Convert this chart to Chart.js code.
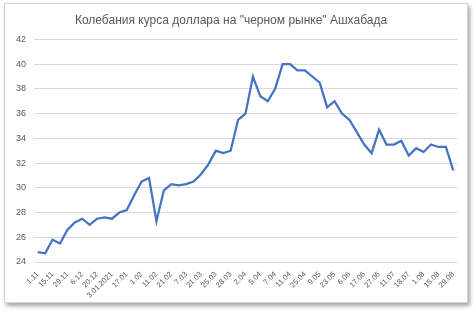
<!DOCTYPE html>
<html lang="ru">
<head>
<meta charset="utf-8">
<title>Колебания курса доллара</title>
<script src="https://cdn.jsdelivr.net/npm/chart.js@4.4.1/dist/chart.umd.min.js"></script>
<style>
  html, body { margin: 0; padding: 0; background: #fff; }
  body { width: 474px; height: 311px; position: relative; overflow: hidden; }
  .card {
    position: absolute; left: 4px; top: 3px; width: 462px; height: 298px;
    background: #fff; border: 1px solid #d4d4d4;
    box-shadow: 2px 3px 4px rgba(0, 0, 0, 0.35);
  }
  #chart { display: block; }
</style>
</head>
<body>
<div class="card"><canvas id="chart" width="462" height="298"></canvas></div>
<script>
// --- Data ---
// dates shown on the axis (every other point is labelled)
const tickDates = ['1.11', '15.11', '29.11', '6.12', '20.12', '3.01.2021', '17.01', '1.02',
  '11.02', '21.02', '7.03', '21.03', '25.03', '28.03', '2.04', '5.04', '7.04', '11.04',
  '25.04', '9.05', '23.05', '6.06', '17.06', '27.06', '11.07', '18.07', '1.08', '15.08', '29.08'];

const rate = [
  24.8, 24.7, 25.8, 25.5, 26.6, 27.2, 27.5, 27.0, 27.5, 27.6,
  27.5, 28.0, 28.2, 29.4, 30.5, 30.8, 27.3, 29.8, 30.3, 30.2,
  30.3, 30.5, 31.1, 31.9, 33.0, 32.8, 33.0, 35.5, 36.0, 39.0,
  37.4, 37.0, 38.0, 40.0, 40.0, 39.5, 39.5, 39.0, 38.5, 36.5,
  37.0, 36.0, 35.5, 34.5, 33.5, 32.8, 34.7, 33.5, 33.5, 33.8,
  32.6, 33.2, 32.9, 33.5, 33.3, 33.3, 31.4
];

const yMin = 24, yMax = 42, yStep = 2;

// one category per point, unlabelled points get an empty label
const labels = rate.map((v, i) => (i % 2 === 0 ? tickDates[i / 2] : ''));

const grey = '#595959';
const font = 'Liberation Sans';

new Chart(document.getElementById('chart'), {
  type: 'line',
  data: {
    labels: labels,
    datasets: [{
      label: 'Курс',
      data: rate,
      borderColor: '#4472C4',
      borderWidth: 2.25,
      pointRadius: 0,
      tension: 0,
      fill: false
    }]
  },
  options: {
    responsive: false,
    animation: false,
    layout: { padding: { left: 0, right: 10, top: 0, bottom: 4 } },
    scales: {
      x: {
        offset: true,
        grid: { display: false },
        border: { display: false },
        ticks: {
          autoSkip: false,
          minRotation: 45,
          maxRotation: 45,
          color: grey,
          padding: 0,
          font: { family: font, size: 7.5 }
        },
        afterFit: s => { s.height = 36; }
      },
      y: {
        min: yMin,
        max: yMax,
        border: { display: false },
        grid: { color: '#d9d9d9', lineWidth: 1, drawTicks: false },
        ticks: {
          stepSize: yStep,
          color: grey,
          padding: 8,
          font: { family: font, size: 9 }
        },
        afterFit: s => { s.width = 29; }
      }
    },
    plugins: {
      legend: { display: false },
      tooltip: { enabled: false },
      title: {
        display: true,
        text: 'Колебания курса доллара на "черном рынке" Ашхабада',
        color: grey,
        font: { family: font, size: 12, weight: 'normal' },
        padding: { top: 9, bottom: 12 }
      }
    }
  }
});
</script>
</body>
</html>
